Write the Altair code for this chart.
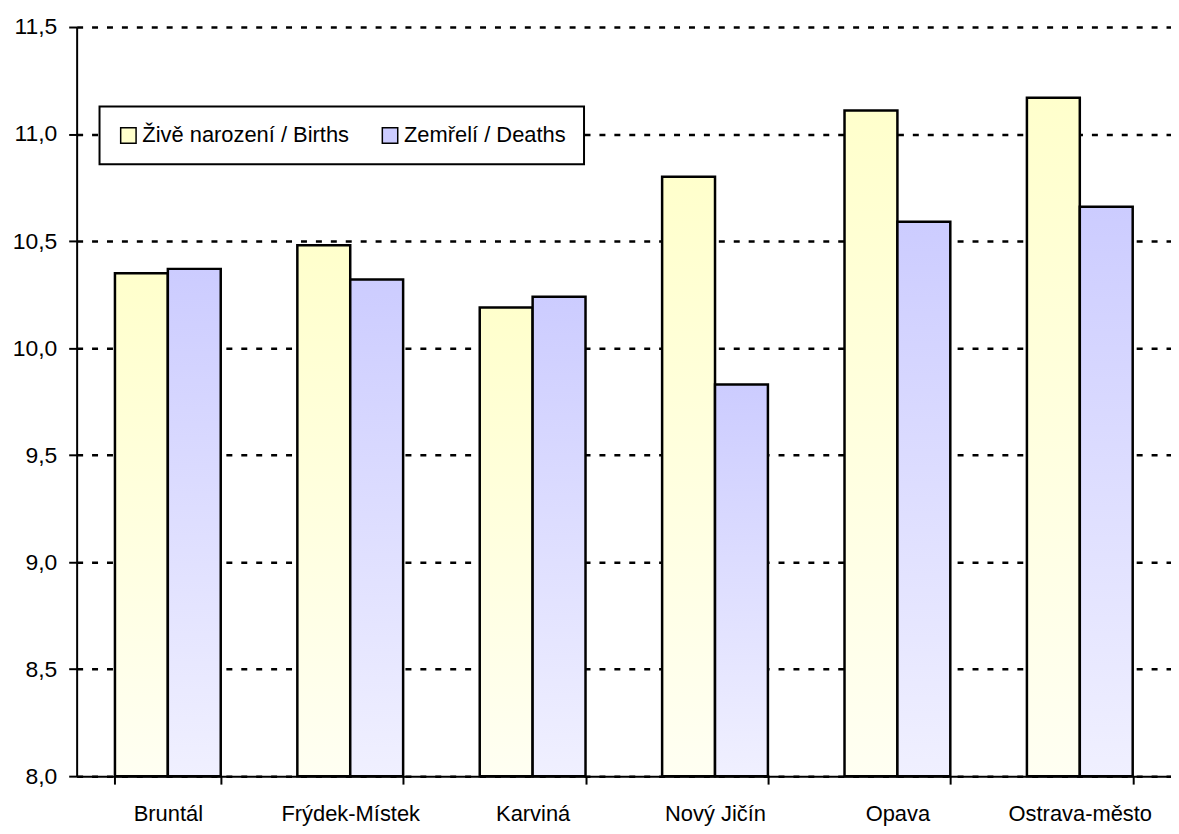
import altair as alt
import pandas as pd

districts = ["Bruntál", "Frýdek-Místek", "Karviná", "Nový Jičín", "Opava", "Ostrava-město"]
births = [10.35, 10.48, 10.19, 10.80, 11.11, 11.17]
deaths = [10.37, 10.32, 10.24, 9.83, 10.59, 10.66]
series = ["Živě narození / Births", "Zemřelí / Deaths"]
y_ticks = [8.0, 8.5, 9.0, 9.5, 10.0, 10.5, 11.0, 11.5]

rows = []
for d, b, m in zip(districts, births, deaths):
    rows.append({"district": d, "series": series[0], "value": b})
    rows.append({"district": d, "series": series[1], "value": m})
df = pd.DataFrame(rows)

FONT = "Liberation Sans"

x_enc = alt.X(
    "district:N", sort=districts, title=None,
    scale=alt.Scale(paddingInner=0.42, paddingOuter=0.21),
    axis=alt.Axis(
        labelAngle=0, labelFontSize=22, labelFont=FONT, labelColor="black",
        labelPadding=20, tickBand="extent", tickSize=8, tickWidth=2,
        tickColor="black", domainColor="black", domainWidth=2, grid=False,
        labelLimit=300,
    ),
)
xoff_enc = alt.XOffset(
    "series:N", sort=series,
    scale=alt.Scale(domain=series, paddingInner=0, paddingOuter=0),
)
y_enc = alt.Y(
    "value:Q", title=None,
    scale=alt.Scale(domain=[8, 11.5], zero=False, nice=False),
    axis=alt.Axis(
        values=y_ticks,
        labelExpr="replace(format(datum.value, '.1f'), '.', ',')",
        labelFontSize=23, labelFont=FONT, labelColor="black", labelPadding=12,
        tickSize=8, tickWidth=2, tickColor="black",
        domainColor="black", domainWidth=2,
        grid=True, gridColor="black", gridDash=[6, 9], gridWidth=2.5,
    ),
)

grad_births = alt.Gradient(
    gradient="linear", x1=0, y1=0, x2=0, y2=1,
    stops=[alt.GradientStop(color="#ffffcc", offset=0),
           alt.GradientStop(color="#fffff2", offset=1)],
)
grad_deaths = alt.Gradient(
    gradient="linear", x1=0, y1=0, x2=0, y2=1,
    stops=[alt.GradientStop(color="#ccccff", offset=0),
           alt.GradientStop(color="#f0f0ff", offset=1)],
)

base = alt.Chart(df)

births_layer = base.transform_filter(alt.datum.series == series[0]).mark_bar(
    fill=grad_births, stroke="black", strokeWidth=2.5
).encode(x=x_enc, xOffset=xoff_enc, y=y_enc, y2=alt.datum(8.0))

deaths_layer = base.transform_filter(alt.datum.series == series[1]).mark_bar(
    fill=grad_deaths, stroke="black", strokeWidth=2.5
).encode(x=x_enc, xOffset=xoff_enc, y=y_enc, y2=alt.datum(8.0))

legend_layer = base.mark_bar(opacity=0).encode(
    x=x_enc, xOffset=xoff_enc, y=y_enc, y2=alt.datum(8.0),
    color=alt.Color(
        "series:N",
        scale=alt.Scale(domain=series, range=["#ffffcc", "#ccccff"]),
        legend=alt.Legend(
            title=None, orient="none", legendX=23, legendY=80,
            direction="horizontal", symbolType="square", symbolSize=240,
            symbolOpacity=1, symbolStrokeColor="black", symbolStrokeWidth=1.5,
            labelFontSize=22, labelFont=FONT, labelColor="black", labelOffset=3,
            labelLimit=400,
            columnPadding=30, padding=18, strokeColor="black", fillColor="white",
        ),
    ),
)

chart = alt.layer(births_layer, deaths_layer, legend_layer).properties(
    width=1100, height=753,
    autosize=alt.AutoSizeParams(type="none"),
    padding={"left": 69, "top": 17, "right": 0, "bottom": 50},
    background="white",
).configure_view(stroke=None).configure_legend(strokeWidth=2)

chart.save("out.html", embed_options={"renderer": "svg", "actions": False})
